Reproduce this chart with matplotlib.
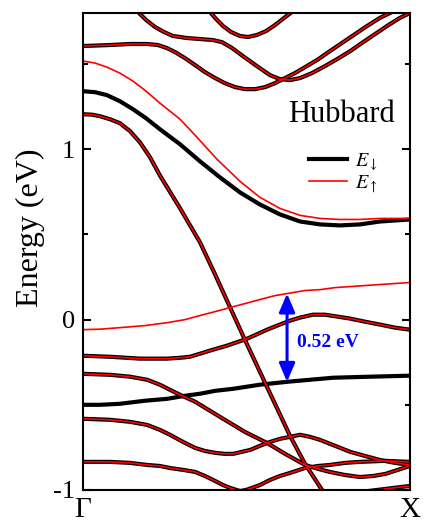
import matplotlib
matplotlib.use("Agg")
import matplotlib.pyplot as plt
from matplotlib.lines import Line2D

plt.rcParams['font.family'] = ['Liberation Serif', 'DejaVu Serif']
plt.rcParams['mathtext.fontset'] = 'stix'

# bands present in both spin channels: (k, E)
both_k = [
    [0.168, 0.193, 0.220, 0.248, 0.275, 0.318, 0.358, 0.398, 0.425, 0.456, 0.489, 0.532, 0.572, 0.602,
     0.633, 0.664, 0.700, 0.740, 0.777, 0.817, 0.853, 0.893, 0.930, 0.969, 1.0],
    [0.0, 0.083, 0.144, 0.196, 0.229, 0.257, 0.281, 0.312, 0.343, 0.373, 0.404, 0.434, 0.465, 0.495,
     0.526, 0.557, 0.587, 0.618, 0.648, 0.679, 0.716, 0.755, 0.792, 0.832, 0.869, 0.908, 0.945],
    [0.388, 0.407, 0.428, 0.453, 0.480, 0.505, 0.532, 0.560, 0.587, 0.615, 0.639],
    [0.0, 0.028, 0.052, 0.083, 0.113, 0.144, 0.174, 0.205, 0.235, 0.297, 0.358, 0.404, 0.450, 0.495,
     0.541, 0.587, 0.633, 0.679, 0.731],
    [0.0, 0.083, 0.174, 0.257, 0.297, 0.327, 0.358, 0.388, 0.440, 0.502, 0.563, 0.602, 0.633, 0.664,
     0.703, 0.740, 0.777, 0.817, 0.862, 0.908, 0.954, 1.0],
    [0.0, 0.083, 0.144, 0.196, 0.235, 0.266, 0.303, 0.343, 0.419, 0.495, 0.563, 0.618, 0.679, 0.719,
     0.755, 0.801, 0.847, 0.887, 0.924, 0.963, 1.0],
    [0.0, 0.083, 0.144, 0.196, 0.235, 0.266, 0.306, 0.343, 0.373, 0.404, 0.434, 0.459, 0.486, 0.511,
     0.541, 0.572, 0.602, 0.633, 0.664, 0.694, 0.725, 0.771, 0.817, 0.862, 0.908, 0.954, 1.0],
    [0.0, 0.083, 0.144, 0.196, 0.235, 0.266, 0.306, 0.343, 0.373, 0.404, 0.428, 0.450, 0.480, 0.498,
     0.517, 0.541, 0.572, 0.602, 0.633, 0.679, 0.719, 0.755, 0.801, 0.847, 0.924, 1.0],
    [0.786, 0.847, 0.924, 1.0],
]
both_e = [
    [1.806, 1.759, 1.718, 1.688, 1.665, 1.653, 1.647, 1.641, 1.629, 1.594, 1.547, 1.488, 1.435, 1.412,
     1.406, 1.418, 1.447, 1.488, 1.529, 1.576, 1.624, 1.676, 1.724, 1.771, 1.800],
    [1.606, 1.612, 1.618, 1.618, 1.612, 1.594, 1.571, 1.535, 1.494, 1.453, 1.418, 1.388, 1.365, 1.353,
     1.353, 1.365, 1.388, 1.418, 1.447, 1.482, 1.524, 1.576, 1.624, 1.676, 1.724, 1.771, 1.806],
    [1.806, 1.765, 1.724, 1.688, 1.665, 1.659, 1.671, 1.694, 1.729, 1.771, 1.806],
    [1.206, 1.203, 1.194, 1.176, 1.153, 1.106, 1.041, 0.953, 0.847, 0.653, 0.453, 0.265, 0.071, -0.118,
     -0.306, -0.494, -0.682, -0.847, -1.0],
    [-0.212, -0.218, -0.229, -0.229, -0.224, -0.218, -0.200, -0.182, -0.153, -0.112, -0.059, -0.029,
     -0.006, 0.012, 0.029, 0.029, 0.018, 0.006, -0.012, -0.029, -0.047, -0.059],
    [-0.318, -0.324, -0.335, -0.353, -0.382, -0.412, -0.447, -0.482, -0.571, -0.659, -0.724, -0.788,
     -0.853, -0.876, -0.894, -0.912, -0.924, -0.918, -0.906, -0.882, -0.859],
    [-0.582, -0.588, -0.600, -0.618, -0.647, -0.676, -0.718, -0.753, -0.771, -0.782, -0.788, -0.788,
     -0.776, -0.765, -0.741, -0.718, -0.700, -0.688, -0.676, -0.688, -0.706, -0.741, -0.776, -0.800,
     -0.824, -0.841, -0.853],
    [-0.835, -0.835, -0.841, -0.853, -0.859, -0.871, -0.882, -0.894, -0.918, -0.947, -0.971, -0.988,
     -1.006, -1.000, -0.988, -0.971, -0.941, -0.918, -0.900, -0.871, -0.859, -0.853, -0.841, -0.835,
     -0.829, -0.835],
    [-1.035, -1.012, -0.994, -0.976],
]

# spin down only
down_k = [
    [0.0, 0.037, 0.073, 0.113, 0.153, 0.193, 0.235, 0.297, 0.358, 0.419, 0.480, 0.541, 0.602, 0.664,
     0.725, 0.786, 0.847, 0.908, 1.0],
    [0.0, 0.052, 0.113, 0.190, 0.257, 0.312, 0.358, 0.404, 0.459, 0.541, 0.624, 0.694, 0.765, 0.878, 1.0],
]
down_e = [
    [1.341, 1.335, 1.318, 1.282, 1.235, 1.182, 1.118, 1.029, 0.929, 0.835, 0.747, 0.676, 0.618, 0.576,
     0.559, 0.553, 0.559, 0.576, 0.588],
    [-0.500, -0.500, -0.494, -0.476, -0.465, -0.447, -0.435, -0.418, -0.406, -0.382, -0.365, -0.353,
     -0.341, -0.335, -0.329],
]

# spin up only
up_k = [
    [0.0, 0.037, 0.073, 0.113, 0.153, 0.193, 0.235, 0.297, 0.343, 0.410, 0.480, 0.541, 0.602, 0.664,
     0.725, 0.786, 0.847, 0.908, 1.0],
    [0.0, 0.052, 0.113, 0.190, 0.257, 0.312, 0.358, 0.404, 0.450, 0.495, 0.541, 0.587, 0.624, 0.679,
     0.725, 0.771, 0.817, 0.908, 1.0],
]
up_e = [
    [1.518, 1.506, 1.482, 1.447, 1.400, 1.341, 1.271, 1.176, 1.082, 0.941, 0.812, 0.718, 0.653, 0.612,
     0.594, 0.588, 0.588, 0.594, 0.594],
    [-0.059, -0.056, -0.047, -0.035, -0.018, 0.0, 0.024, 0.047, 0.071, 0.094, 0.118, 0.141, 0.153,
     0.171, 0.176, 0.188, 0.194, 0.206, 0.218],
]

kpoints = [0.0, 1.0]
klabels = ['Γ', 'X']
yticks = [-1, 0, 1]
ytick_labels = ['-1', '0', '1']

gap_k = 0.624
gap_top = 0.153
gap_bottom = -0.365
gap_text = '0.52 eV'

fig = plt.figure(figsize=(4.25, 5.28), dpi=100)
ax = fig.add_axes([0.1953, 0.072, 0.7694, 0.9034])

# black = spin down, red = spin up drawn on top
for k, e in zip(both_k + down_k, both_e + down_e):
    ax.plot(k, e, color='black', lw=3.0, solid_joinstyle='round')
for k, e in zip(both_k + up_k, both_e + up_e):
    ax.plot(k, e, color='red', lw=1.2, solid_joinstyle='round')

ax.annotate('', xy=(gap_k, gap_top), xytext=(gap_k, gap_bottom),
            arrowprops=dict(arrowstyle='<|-|>,head_length=0.7,head_width=0.3',
                            color='blue', lw=2.2, mutation_scale=16,
                            shrinkA=0, shrinkB=0))
ax.text(gap_k + 0.03, -0.135, gap_text, color='blue',
        fontsize=14, fontweight='bold', va='center', ha='left')

ax.text(0.79, 0.788, 'Hubbard', transform=ax.transAxes, fontsize=22,
        ha='center', va='center')
handles = [Line2D([], [], color='black', lw=3.0), Line2D([], [], color='red', lw=1.2)]
ax.legend(handles, [r'$E_{\downarrow}$', r'$E_{\uparrow}$'], loc='upper left',
          bbox_to_anchor=(0.69, 0.71), frameon=False, fontsize=14.5,
          handlelength=1.9, handletextpad=0.4, labelspacing=0.05,
          borderpad=0, borderaxespad=0)

ax.set_xlim(0, 1)
ax.set_ylim(-1, 1.8)
ax.set_xticks(kpoints)
ax.set_xticklabels(klabels, fontsize=21)
ax.tick_params(axis='x', length=0, pad=5)
ax.set_yticks(yticks)
ax.set_yticklabels(ytick_labels, fontsize=19)
ax.set_yticks([-0.5, 0.5, 1.5], minor=True)
ax.tick_params(axis='y', which='major', direction='in', length=6, width=1.5, right=True, pad=6)
ax.tick_params(axis='y', which='minor', direction='in', length=3.5, width=1.5, right=True)
for s in ax.spines.values():
    s.set_linewidth(1.5)
ax.set_ylabel('Energy (eV)', fontsize=23)
ax.yaxis.set_label_coords(-0.115, 0.55)

fig.savefig('out.png', dpi=100)
